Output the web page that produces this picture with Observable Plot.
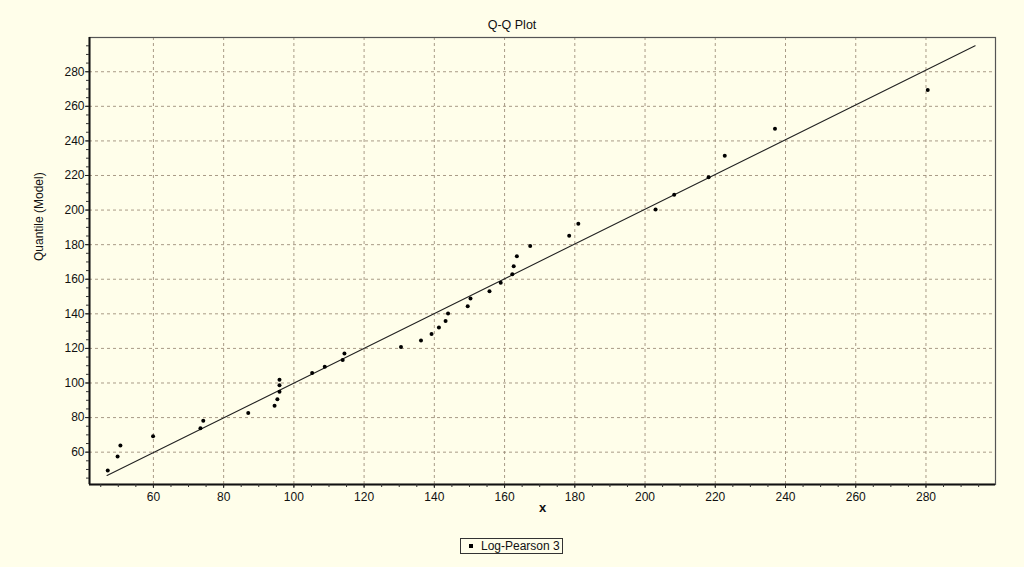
<!DOCTYPE html>
<html>
<head>
<meta charset="utf-8">
<script src="https://cdn.jsdelivr.net/npm/d3@7"></script>
<script src="https://cdn.jsdelivr.net/npm/@observablehq/plot@0.6"></script>
<style>
  html, body { margin: 0; padding: 0; background: #fffeea; }
  body { width: 1024px; height: 567px; position: relative; overflow: hidden; font-family: "Liberation Sans", Arial, sans-serif; }
  #title { position: absolute; left: 0; top: 17px; width: 1024px; text-align: center; font-size: 12.5px; line-height: 16px; color: #111; }
  #chart { position: absolute; left: 0; top: 30px; }
  #legend { position: absolute; left: 460px; top: 538px; width: 103px; height: 16px; border: 1px solid #333; box-sizing: border-box; font-size: 12px; line-height: 14px; color: #111; }
  #legend .mk { position: absolute; left: 8px; top: 5px; width: 4px; height: 4px; background: #000; }
  #legend .lb { position: absolute; left: 20px; top: 0px; }
</style>
</head>
<body>
<div id="title">Q-Q Plot</div>
<div id="chart"></div>
<div id="legend"><span class="mk"></span><span class="lb">Log-Pearson 3</span></div>
<script>
// Observed values (x) and model quantiles (y)
const obsX = [47.0, 49.8, 50.6, 59.9, 73.4, 74.2, 87.0, 94.5, 95.3, 95.9, 95.9, 95.9,
  105.2, 108.8, 113.9, 114.4, 130.5, 136.2, 139.2, 141.3, 143.2, 143.9, 149.5, 150.3,
  155.7, 158.9, 162.2, 162.6, 163.5, 167.3, 178.4, 181.0, 203.0, 208.3, 218.1, 222.7,
  237.0, 280.5];
const modelY = [49.4, 57.5, 63.8, 69.2, 73.8, 78.2, 82.7, 86.9, 90.6, 95.0, 98.7, 101.9,
  105.8, 109.4, 113.3, 117.1, 120.8, 124.6, 128.3, 132.1, 135.9, 140.2, 144.4, 148.9,
  153.1, 157.9, 162.9, 167.5, 173.3, 179.2, 185.2, 192.1, 200.4, 208.9, 219.0, 231.4,
  247.1, 269.5];
// Reference line (1:1)
const lineX = [46.8, 294.0];
const lineY = [46.5, 295.0];
// Tick labels
const xTicks = [60, 80, 100, 120, 140, 160, 180, 200, 220, 240, 260, 280];
const yTicks = [60, 80, 100, 120, 140, 160, 180, 200, 220, 240, 260, 280];
const minorTicks = d3.range(45, 300, 5);
const xDomain = [41.8, 299.8];
const yDomain = [41.3, 299.8];

const points = obsX.map((x, i) => ({x, y: modelY[i]}));
const refLine = lineX.map((x, i) => ({x, y: lineY[i]}));

const gridStyle = {stroke: "#9a8a76", strokeOpacity: 0.85, strokeDasharray: "3,3", strokeWidth: 1};

const chart = Plot.plot({
  width: 1024,
  height: 500,
  marginLeft: 89,
  marginRight: 29,
  marginTop: 7,
  marginBottom: 46,
  style: {background: "transparent", fontFamily: "Liberation Sans, Arial, sans-serif", fontSize: "12px", color: "#111"},
  x: {domain: xDomain},
  y: {domain: yDomain},
  marks: [
    Plot.gridX(xTicks, gridStyle),
    Plot.gridY(yTicks, gridStyle),
    Plot.frame({stroke: "#555", strokeWidth: 1.2}),
    Plot.ruleX([xDomain[0]], {stroke: "#111", strokeWidth: 2}),
    Plot.ruleY([yDomain[0]], {stroke: "#111", strokeWidth: 2}),
    Plot.axisX(minorTicks, {tickSize: 3, text: null, label: null, stroke: "#333"}),
    Plot.axisY(minorTicks, {tickSize: 3, text: null, label: null, stroke: "#333"}),
    Plot.axisX(xTicks, {tickSize: 4, tickPadding: 4, label: null, fontSize: 12, stroke: "#222"}),
    Plot.axisY(yTicks, {tickSize: 4, tickPadding: 1, label: null, fontSize: 12, stroke: "#222"}),
    Plot.line(refLine, {x: "x", y: "y", stroke: "#222", strokeWidth: 1.1}),
    Plot.dot(points, {x: "x", y: "y", r: 2, fill: "#000", stroke: "none"}),
    Plot.text(["x"], {frameAnchor: "bottom", dy: 27, fontWeight: "bold", fontSize: 13, fill: "#111"}),
    Plot.text(["Quantile (Model)"], {frameAnchor: "left", dx: -50, rotate: -90, fontSize: 12, fill: "#111"})
  ]
});
document.getElementById("chart").appendChild(chart);
</script>
</body>
</html>
